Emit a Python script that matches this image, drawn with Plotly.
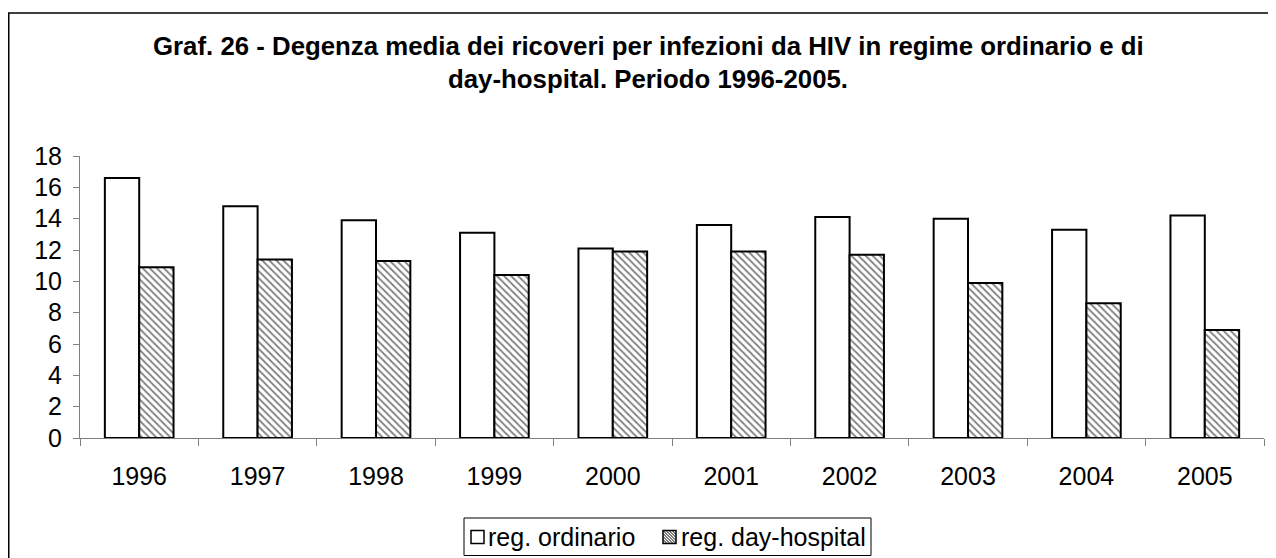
import plotly.graph_objects as go

years = ["1996", "1997", "1998", "1999", "2000", "2001", "2002", "2003", "2004", "2005"]
ordinario = [16.6, 14.8, 13.9, 13.1, 12.1, 13.6, 14.1, 14.0, 13.3, 14.2]
day_hospital = [10.9, 11.4, 11.3, 10.4, 11.9, 11.9, 11.7, 9.9, 8.6, 6.9]
series_names = ["reg. ordinario", "reg. day-hospital"]
y_ticks = [0, 2, 4, 6, 8, 10, 12, 14, 16, 18]

# page is offset by the default 8px body margin
OFF = 8
W, H = 1276 - OFF, 558 - OFF
ML, MR, MT, MB = 80 - OFF, 12, 156 - OFF, 120
PW, PH = W - ML - MR, H - MT - MB

def px_x(x):
    return (x - OFF - ML) / PW

def px_y(y):
    return (H - MB - (y - OFF)) / PH

FONT = "Liberation Sans, Arial, sans-serif"

fig = go.Figure()
fig.add_trace(go.Bar(
    x=years, y=ordinario, name=series_names[0],
    marker=dict(color="white", line=dict(color="black", width=2)),
))
fig.add_trace(go.Bar(
    x=years, y=day_hospital, name=series_names[1],
    marker=dict(color="white", line=dict(color="black", width=2),
                pattern=dict(shape="\\", fgcolor="black", bgcolor="white",
                             size=5, solidity=0.35)),
))

# ---- custom legend (page pixel geometry) ----
shapes = [
    # outer chart border
    dict(type="rect", xref="paper", yref="paper",
         x0=px_x(8.75), y0=px_y(13), x1=px_x(1290), y1=px_y(580),
         line=dict(color="black", width=1.5), fillcolor="rgba(0,0,0,0)",
         layer="below"),
    # legend box
    dict(type="rect", xref="paper", yref="paper",
         x0=px_x(464), y0=px_y(518), x1=px_x(871), y1=px_y(555.5),
         line=dict(color="black", width=1), fillcolor="white"),
]
s = 13
sq_y0 = 530.5
sq1_x0, sq2_x0 = 471, 663
for x0 in (sq1_x0, sq2_x0):
    shapes.append(dict(type="rect", xref="paper", yref="paper",
                       x0=px_x(x0), y0=px_y(sq_y0), x1=px_x(x0 + s), y1=px_y(sq_y0 + s),
                       line=dict(color="black", width=1.5), fillcolor="white"))
# hatch lines in second symbol
for k in (-9, -6, -3, 0, 3, 6, 9):
    xa = sq2_x0 + max(0, k)
    ya = sq_y0 + max(0, -k)
    xb = sq2_x0 + s - max(0, -k)
    yb = sq_y0 + s - max(0, k)
    shapes.append(dict(type="line", xref="paper", yref="paper",
                       x0=px_x(xa), y0=px_y(ya), x1=px_x(xb), y1=px_y(yb),
                       line=dict(color="black", width=1)))

annotations = [
    dict(text="<b>Graf. 26 - Degenza media dei ricoveri per infezioni da HIV in regime ordinario e di</b>",
         x=px_x(648), y=px_y(46), xref="paper", yref="paper",
         xanchor="center", yanchor="middle", showarrow=False,
         font=dict(size=25.8, family=FONT)),
    dict(text="<b>day-hospital. Periodo 1996-2005.</b>",
         x=px_x(648), y=px_y(79), xref="paper", yref="paper",
         xanchor="center", yanchor="middle", showarrow=False,
         font=dict(size=25.8, family=FONT)),
    dict(text=series_names[0], x=px_x(486), y=px_y(537), xref="paper", yref="paper",
         xanchor="left", yanchor="middle", showarrow=False,
         font=dict(size=25, family=FONT)),
    dict(text=series_names[1], x=px_x(679), y=px_y(537), xref="paper", yref="paper",
         xanchor="left", yanchor="middle", showarrow=False,
         font=dict(size=25, family=FONT)),
]

fig.update_layout(
    width=W, height=H,
    margin=dict(l=ML, r=MR, t=MT, b=MB, autoexpand=False),
    paper_bgcolor="white", plot_bgcolor="white",
    barmode="group", bargap=0.42, bargroupgap=0,
    font=dict(family=FONT, size=25, color="black"),
    showlegend=False,
    xaxis=dict(type="category", showgrid=False, showline=True,
               linecolor="#808080", linewidth=1, automargin=False,
               ticks="outside", ticklen=7, tickcolor="#808080",
               tickson="boundaries", ticklabelstandoff=16,
               tickfont=dict(size=25)),
    yaxis=dict(range=[0, 18], tickvals=y_ticks, showgrid=False,
               showline=True, linecolor="#808080", linewidth=1,
               automargin=False,
               ticks="outside", ticklen=6, tickcolor="#808080",
               ticklabelstandoff=6, zeroline=False,
               tickfont=dict(size=25)),
    annotations=annotations,
    shapes=shapes,
)

fig.write_html("out.html")
